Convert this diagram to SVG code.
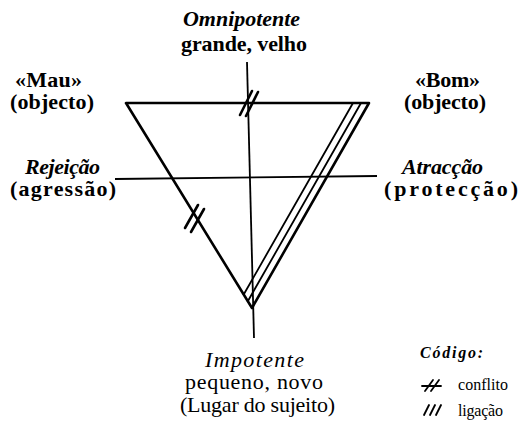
<svg xmlns="http://www.w3.org/2000/svg" width="530" height="423" viewBox="0 0 530 423">
<style>
text{font-family:"Liberation Serif","Times New Roman",serif;fill:#000}
.b{font-weight:bold;font-size:22px}
.bi{font-weight:bold;font-style:italic;font-size:22px}
.r{font-size:22px}
.i{font-style:italic;font-size:22px}
.s{font-size:16px}
.si{font-size:16px;font-weight:bold;font-style:italic}
.tri{stroke:#000;stroke-width:2.6;fill:none;stroke-linejoin:round;stroke-linecap:round}
.ax{stroke:#000;stroke-width:1.8;fill:none}
.ln{stroke:#000;stroke-width:1.8;fill:none;stroke-linecap:round}
.tk{stroke:#000;stroke-width:2.6;stroke-linecap:round}
</style>
<rect width="530" height="423" fill="#fff"/>
<g id="connectors">
  <line class="ax" x1="247" y1="62" x2="254" y2="338"/>
  <line class="ax" x1="115" y1="179" x2="377" y2="176"/>
  <polygon class="tri" points="126,103 369,103 252,308"/>
  <line class="ln" x1="361" y1="103" x2="247.8" y2="301.3"/>
  <line class="ln" x1="353" y1="103" x2="243.7" y2="294.5"/>
  <line class="tk" x1="240" y1="115" x2="252" y2="91"/>
  <line class="tk" x1="246" y1="116" x2="258" y2="92"/>
  <line class="tk" x1="185" y1="228" x2="198" y2="205"/>
  <line class="tk" x1="191" y1="232" x2="204" y2="209"/>
</g>
<g id="top">
  <text class="bi" x="183" y="26" textLength="117" lengthAdjust="spacing">Omnipotente</text>
  <text class="b" x="181" y="51" textLength="126" lengthAdjust="spacing">grande, velho</text>
</g>
<g id="mau">
  <text class="b" x="15" y="87" textLength="67" lengthAdjust="spacing">«Mau»</text>
  <text class="b" x="10" y="109" textLength="84" lengthAdjust="spacing">(objecto)</text>
</g>
<g id="bom">
  <text class="b" x="415" y="87" textLength="65" lengthAdjust="spacing">«Bom»</text>
  <text class="b" x="404" y="109" textLength="82" lengthAdjust="spacing">(objecto)</text>
</g>
<g id="rejeicao">
  <text class="bi" x="25" y="174" textLength="75" lengthAdjust="spacing">Rejeição</text>
  <text class="b" x="10" y="196" textLength="106" lengthAdjust="spacing">(agressão)</text>
</g>
<g id="atraccao">
  <text class="bi" x="402" y="174" textLength="81" lengthAdjust="spacing">Atracção</text>
  <text class="b" x="384" y="196" textLength="134" lengthAdjust="spacing">(protecção)</text>
</g>
<g id="bottom">
  <text class="i" x="205" y="367" textLength="99" lengthAdjust="spacing">Impotente</text>
  <text class="r" x="185" y="389" textLength="138" lengthAdjust="spacing">pequeno, novo</text>
  <text class="r" x="180" y="412" textLength="155" lengthAdjust="spacing">(Lugar do sujeito)</text>
</g>
<g id="legend">
  <text class="si" x="420" y="358" textLength="63" lengthAdjust="spacing">Código:</text>
  <line class="ln" x1="425" y1="391" x2="433" y2="380"/>
  <line class="ln" x1="431" y1="391" x2="439" y2="380"/>
  <line class="ln" x1="422" y1="386" x2="441" y2="386"/>
  <text class="s" x="458" y="390" textLength="50" lengthAdjust="spacing">conflito</text>
  <line class="ln" x1="424" y1="415" x2="429" y2="405"/>
  <line class="ln" x1="430" y1="415" x2="435" y2="405"/>
  <line class="ln" x1="436" y1="415" x2="441" y2="405"/>
  <text class="s" x="458" y="416" textLength="45" lengthAdjust="spacing">ligação</text>
</g>
</svg>
